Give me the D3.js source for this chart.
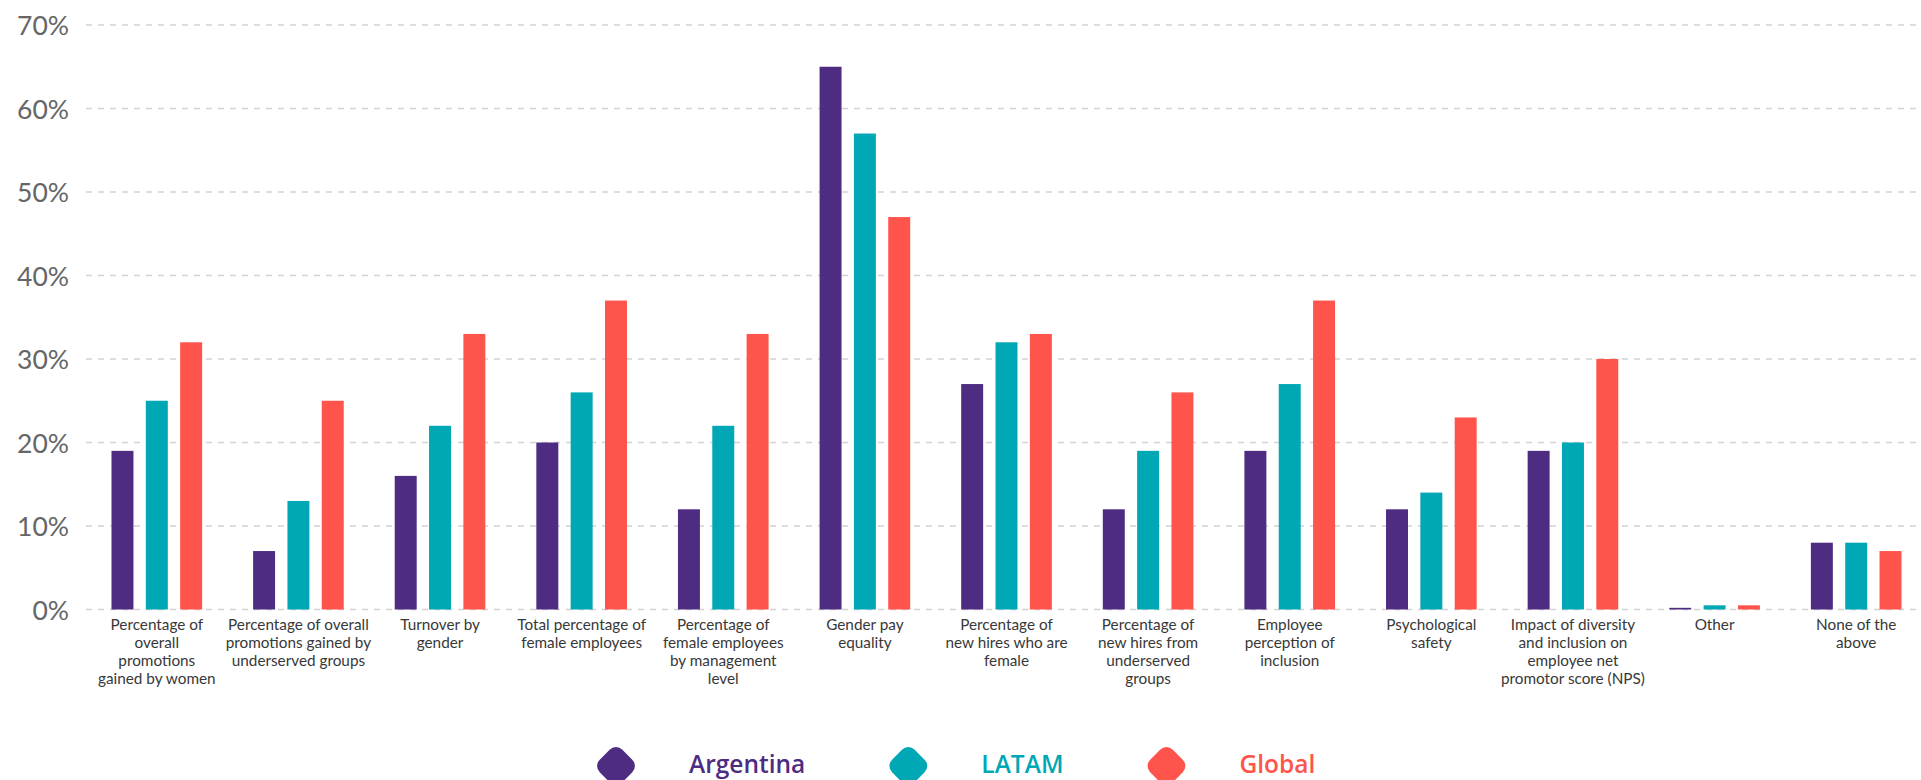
<!DOCTYPE html>
<html>
<head>
<meta charset="utf-8">
<script src="https://cdn.jsdelivr.net/npm/d3@7"></script>
<style>
  html, body { margin: 0; padding: 0; background: #fff; }
  svg { display: block; }
</style>
</head>
<body>
<svg id="chart" width="1921" height="780"></svg>
<script>
// Metrics tracked for diversity & inclusion (share of respondents)
const categories = [
  "Percentage of\noverall\npromotions\ngained by women",
  "Percentage of overall\npromotions gained by\nunderserved groups",
  "Turnover by\ngender",
  "Total percentage of\nfemale employees",
  "Percentage of\nfemale employees\nby management\nlevel",
  "Gender pay\nequality",
  "Percentage of\nnew hires who are\nfemale",
  "Percentage of\nnew hires from\nunderserved\ngroups",
  "Employee\nperception of\ninclusion",
  "Psychological\nsafety",
  "Impact of diversity\nand inclusion on\nemployee net\npromotor score (NPS)",
  "Other",
  "None of the\nabove"
];
const seriesNames = ["Argentina", "LATAM", "Global"];
const argentina = [19, 7, 16, 20, 12, 65, 27, 12, 19, 12, 19, 0.2, 8];
const latam     = [25, 13, 22, 26, 22, 57, 32, 19, 27, 14, 20, 0.5, 8];
const global    = [32, 25, 33, 37, 33, 47, 33, 26, 37, 23, 30, 0.5, 7];
const yTicks = [0, 10, 20, 30, 40, 50, 60, 70];

const seriesValues = [argentina, latam, global];
const colors = ["#4D2C82", "#00A7B4", "#FF544B"];

const svg = d3.select("#chart");
const plotLeft = 86, plotRight = 1927, plotTop = 25, plotBottom = 609.5;

const x0 = d3.scaleBand()
  .domain(d3.range(categories.length))
  .range([plotLeft, plotRight])
  .paddingInner(0.36)
  .paddingOuter(0.18);

const x1 = d3.scaleBand()
  .domain(seriesNames)
  .range([0, x0.bandwidth()])
  .paddingInner(0.36)
  .paddingOuter(0);

const y = d3.scaleLinear().domain([0, 70]).range([plotBottom, plotTop]);

// Dashed horizontal gridlines
svg.append("g")
  .selectAll("line")
  .data(yTicks)
  .join("line")
  .attr("x1", plotLeft)
  .attr("x2", 1921)
  .attr("y1", d => y(d))
  .attr("y2", d => y(d))
  .attr("stroke", "#d2d2d2")
  .attr("stroke-width", 1.6)
  .attr("stroke-dasharray", "6,6");

// Y axis labels
const yAxis = d3.axisLeft(y)
  .tickValues(yTicks)
  .tickFormat(d => d + "%")
  .tickSize(0)
  .tickPadding(0);
const yg = svg.append("g")
  .attr("transform", `translate(69,0)`)
  .call(yAxis);
yg.select(".domain").remove();
yg.selectAll("text")
  .attr("font-family", "Lato, 'Open Sans', sans-serif")
  .attr("font-size", 26.5)
  .attr("fill", "#666")
  .attr("dy", "0.36em");

// Bars
const groups = svg.append("g")
  .selectAll("g")
  .data(categories.map((c, i) => i))
  .join("g")
  .attr("transform", i => `translate(${x0(i)},0)`);

groups.selectAll("rect")
  .data(i => seriesNames.map((s, k) => ({ s, k, v: seriesValues[k][i] })))
  .join("rect")
  .attr("x", d => x1(d.s))
  .attr("width", x1.bandwidth())
  .attr("y", d => y(d.v))
  .attr("height", d => y(0) - y(d.v))
  .attr("fill", d => colors[d.k]);

// Category labels (multi-line)
const xAxis = d3.axisBottom(x0).tickSize(0).tickFormat(() => "");
const xg = svg.append("g")
  .attr("transform", `translate(0,${plotBottom})`)
  .call(xAxis);
xg.select(".domain").remove();
xg.selectAll(".tick text").remove();
xg.selectAll(".tick")
  .append("text")
  .attr("text-anchor", "middle")
  .attr("font-family", "Lato, 'Open Sans', sans-serif")
  .attr("font-size", 15.3)
  .attr("fill", "#383838")
  .each(function(i) {
    const t = d3.select(this);
    categories[i].split("\n").forEach((line, j) => {
      t.append("tspan")
        .attr("x", 0)
        .attr("y", 20 + j * 18)
        .text(line);
    });
  });

// Legend
const legend = svg.append("g");
let cursor = 616;
seriesNames.forEach((name, k) => {
  const item = legend.append("g").attr("transform", `translate(${cursor},766)`);
  item.append("rect")
    .attr("x", -16).attr("y", -16)
    .attr("width", 32).attr("height", 32)
    .attr("rx", 9).attr("ry", 9)
    .attr("transform", "rotate(45)")
    .attr("fill", colors[k]);
  const txt = item.append("text")
    .attr("x", 73)
    .attr("y", 7)
    .attr("font-family", "'Open Sans', Lato, sans-serif")
    .attr("font-size", 24.5)
    .attr("font-weight", 600)
    .attr("fill", colors[k])
    .text(name);
  cursor += 73 + txt.node().getComputedTextLength() + 103;
});
</script>
</body>
</html>
